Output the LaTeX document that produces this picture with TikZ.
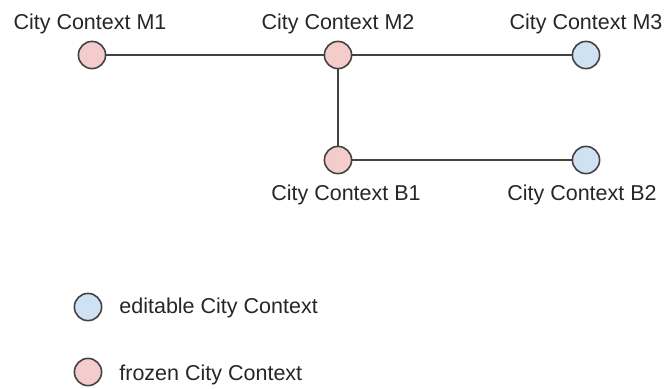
\documentclass[tikz,border=0pt]{standalone}
\usepackage{fontspec}
\setmainfont{Liberation Sans}
\definecolor{frozen}{HTML}{F4CCCC}
\definecolor{editable}{HTML}{CFE2F3}
\definecolor{rim}{HTML}{434343}
\tikzset{
	ctx/.style={circle,draw=rim,line width=0.8pt,minimum size=13.6pt,inner sep=0pt},
	lbl/.style={font=\fontsize{10.75}{12}\selectfont,text=black!85,inner sep=0pt,anchor=base},
	link/.style={draw=rim,line width=0.65pt}
}
\begin{document}
\begin{tikzpicture}[x=0.5pt,y=-0.5pt]
				\useasboundingbox (0,0) rectangle (665,388);
				% contexts
				\node[ctx,fill=frozen] (m1) at (92,55) {};
				\node[ctx,fill=frozen] (m2) at (338,55) {};
				\node[ctx,fill=editable] (m3) at (586,55) {};
				\node[ctx,fill=frozen] (b1) at (338,160) {};
				\node[ctx,fill=editable] (b2) at (586,160) {};
				\draw[link] (m1) -- (m2);
				\draw[link] (m2) -- (m3);
				\draw[link] (m2) -- (b1);
				\draw[link] (b1) -- (b2);
				% labels
				\node[lbl] (lm1) at (90,29) {City Context M1};
				\node[lbl] (lm2) at (338,29) {City Context M2};
				\node[lbl] (lm3) at (586,29) {City Context M3};
				\node[lbl] (lb1) at (346,200) {City Context B1};
				\node[lbl] (lb2) at (582,200) {City Context B2};
				% legend
				\node[ctx,fill=editable] (le) at (88,307) {};
				\node[ctx,fill=frozen] (lf) at (88,372) {};
				\node[lbl,anchor=base west] (te) at (119,313) {editable City Context};
				\node[lbl,anchor=base west] (tf) at (119,380) {frozen City Context};
			\end{tikzpicture}
\end{document}
